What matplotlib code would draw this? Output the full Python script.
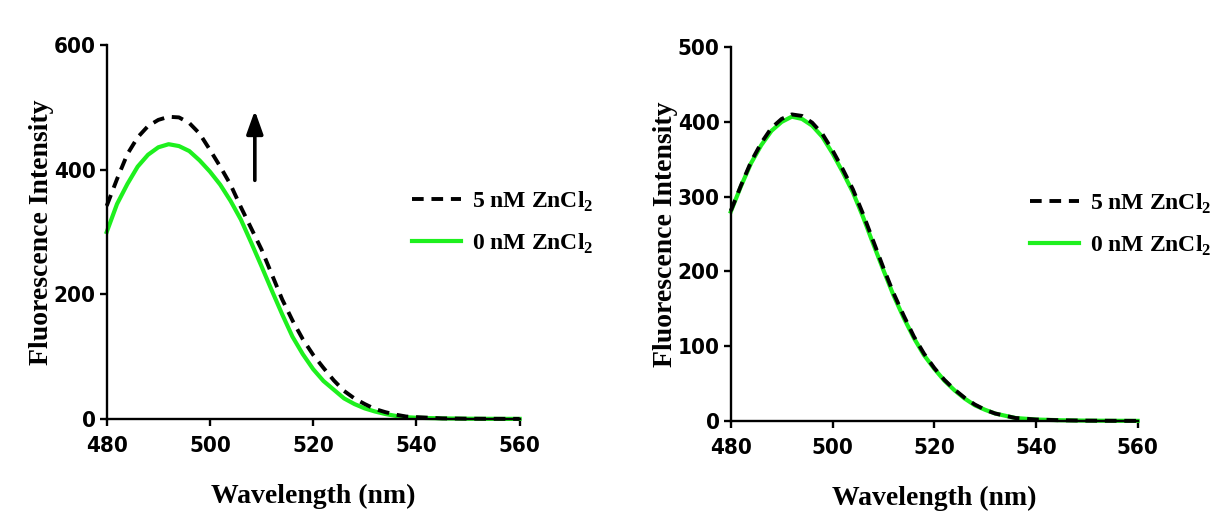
import matplotlib
matplotlib.use("Agg")
import matplotlib.pyplot as plt
from matplotlib import font_manager
from matplotlib.font_manager import FontProperties

# ---------------- data ----------------
wavelength = [480, 482, 484, 486, 488, 490, 492, 494, 496, 498, 500, 502, 504, 506,
              508, 510, 512, 514, 516, 518, 520, 522, 524, 526, 528, 530, 532, 534,
              536, 538, 540, 545, 550, 555, 560]

left_0nM = [300, 345, 377, 405, 424, 436, 441, 438, 430, 415, 397, 376, 350, 320,
            283, 245, 206, 168, 132, 104, 80, 61, 47, 33, 24, 17, 12, 8,
            5, 3, 2, 1, 0.5, 0.3, 0.2]
left_5nM = [342, 385, 425, 452, 470, 480, 485, 484, 475, 458, 432, 405, 376, 340,
            306, 272, 232, 192, 158, 128, 103, 82, 62, 45, 33, 24, 16, 11,
            7, 4, 3, 1, 0.5, 0.3, 0.2]

right_0nM = [280, 314, 345, 369, 388, 400, 407, 404, 395, 380, 358, 333, 306, 273,
             237, 202, 168, 138, 111, 88, 70, 54, 41, 30, 21, 15, 10, 7,
             4, 3, 2, 1, 0.5, 0.3, 0.2]
right_5nM = [281, 315, 347, 372, 392, 404, 410, 408, 399, 384, 362, 337, 310, 277,
             241, 205, 171, 141, 113, 90, 71, 55, 42, 31, 22, 15, 10, 7,
             4, 3, 2, 1, 0.5, 0.3, 0.2]

x_ticks = [480, 500, 520, 540, 560]
left_y_ticks = [0, 200, 400, 600]
right_y_ticks = [0, 100, 200, 300, 400, 500]

labels = ["5 nM ZnCl$_\\mathbf{2}$", "0 nM ZnCl$_\\mathbf{2}$"]
xlabel = "Wavelength (nm)"
ylabel = "Fluorescence Intensity"

# ---------------- style ----------------
plt.rcParams['mathtext.fontset'] = 'custom'
plt.rcParams['mathtext.rm'] = 'Liberation Serif:bold'
plt.rcParams['mathtext.bf'] = 'Liberation Serif:bold'

# look for a narrow/condensed bold sans for tick labels
tick_fp = None
for f in font_manager.fontManager.ttflist:
    nm = f.name.lower()
    cond = ('narrow' in nm or 'condensed' in nm or str(f.stretch) in
            ('condensed', 'semi-condensed', 'extra-condensed', '75', '87.5'))
    if cond and f.weight in ('bold', 700, 'heavy', 800) and 'mono' not in nm and 'serif' not in nm:
        tick_fp = FontProperties(fname=f.fname, size=16)
        break
if tick_fp is None:
    tick_fp = FontProperties(family='Liberation Sans', weight='bold', size=15)

serif = 'Liberation Serif'

GREEN = '#1EF01E'
fig = plt.figure(figsize=(12.18, 5.15), dpi=100)

ax1 = fig.add_axes([0.0876, 0.1864, 0.339, 0.726])
ax2 = fig.add_axes([0.600, 0.1825, 0.334, 0.726])


def style(ax, yt, ymax):
    ax.set_xlim(480, 560)
    ax.set_ylim(0, ymax)
    ax.set_xticks(x_ticks)
    ax.set_yticks(yt)
    for s in ['top', 'right']:
        ax.spines[s].set_visible(False)
    for s in ['left', 'bottom']:
        ax.spines[s].set_linewidth(1.7)
    ax.tick_params(direction='out', length=5, width=1.7)
    ax.tick_params(axis='x', pad=7)
    ax.tick_params(axis='y', pad=3)
    for lab in ax.get_xticklabels() + ax.get_yticklabels():
        lab.set_fontproperties(tick_fp)
    ax.set_xlabel(xlabel, fontfamily=serif, fontweight='bold', fontsize=20, labelpad=20)
    ax.set_ylabel(ylabel, fontfamily=serif, fontweight='bold', fontsize=20, labelpad=0)


for ax, y5, y0, yt, ymax, lx in [(ax1, left_5nM, left_0nM, left_y_ticks, 600, 0.739),
                                 (ax2, right_5nM, right_0nM, right_y_ticks, 500, 0.735)]:
    ax.plot(wavelength, y0, color=GREEN, lw=3.0, label=labels[1], zorder=2, clip_on=False)
    ax.plot(wavelength, y5, color='black', lw=2.8, dashes=(3, 2.0), label=labels[0],
            zorder=3, clip_on=False)
    style(ax, yt, ymax)
    h, l = ax.get_legend_handles_labels()
    leg = ax.legend([h[1], h[0]], [l[1], l[0]], loc='center left',
                    bbox_to_anchor=(lx, 0.525), frameon=False, borderpad=0,
                    borderaxespad=0, handlelength=2.1, handletextpad=0.45,
                    labelspacing=0.75,
                    prop={'family': serif, 'weight': 'bold', 'size': 17})
    leg.set_clip_on(False)

ax1.annotate('', xy=(508.7, 495), xytext=(508.7, 383),
             arrowprops=dict(arrowstyle='-|>,head_length=1.4,head_width=0.5',
                             color='black', lw=2.6, shrinkA=0, shrinkB=0))

fig.savefig('out.png', dpi=100)
